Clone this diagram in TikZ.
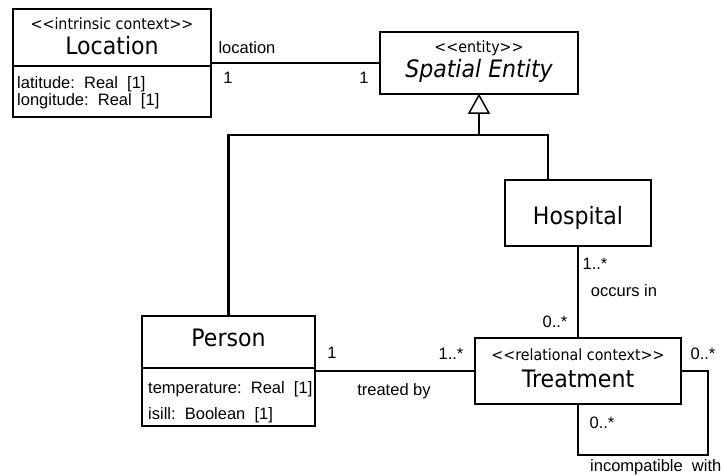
\documentclass[tikz,border=0pt]{standalone}
\usepackage{fontspec}
\setmainfont{Liberation Sans}
\newfontfamily\clsfont[FakeStretch=0.92]{DejaVu Sans}
\begin{document}
\begin{tikzpicture}[x=1pt,y=-1pt,
  umlbox/.style={draw, line width=2.4pt, inner sep=0pt, rectangle},
  link/.style={line width=2.4pt},
  cname/.style={anchor=base, inner sep=0pt, font=\clsfont\fontsize{24}{28}\selectfont},
  stereo/.style={anchor=base, inner sep=0pt, font=\clsfont\fontsize{15.5}{18}\selectfont},
  attr/.style={anchor=base west, inner sep=0pt, font=\fontsize{16.5}{19}\selectfont},
  lbl/.style={anchor=base, inner sep=0pt, font=\fontsize{16.5}{19}\selectfont}]
\useasboundingbox (0,0) rectangle (724,475);

% class boxes
\node[umlbox, minimum width=198pt, minimum height=108pt] (loc) at (112,63) {};
\node[umlbox, minimum width=198pt, minimum height=62pt] (se) at (479,63) {};
\node[umlbox, minimum width=146pt, minimum height=66pt] (hosp) at (578,213) {};
\node[umlbox, minimum width=173pt, minimum height=110pt] (per) at (228.5,371) {};
\node[umlbox, minimum width=206pt, minimum height=66pt] (treat) at (578,371) {};

% compartment dividers
\draw[link] (loc.west |- 0,66) -- (loc.east |- 0,66);
\draw[link] (per.west |- 0,368) -- (per.east |- 0,368);

% Location
\node[stereo] (locst) at (112,29) {<<intrinsic context>>};
\node[cname] (locname) at (112,54) {Location};
\node[attr] (lat) at (17,88) {latitude:\ \ Real\ \ [1]};
\node[attr] (lon) at (17,105) {longitude:\ \ Real\ \ [1]};

% Spatial Entity
\node[stereo] (sest) at (479,52) {<<entity>>};
\node[cname, font=\clsfont\itshape\fontsize{24}{28}\selectfont] (sename) at (479,77) {Spatial Entity};

% Hospital
\node[cname] (hospname) at (578,224) {Hospital};

% Person
\node[cname] (pername) at (228.5,346) {Person};
\node[attr] (temp) at (148,393) {temperature:\ \ Real\ \ [1]};
\node[attr] (isill) at (148,419) {isill:\ \ Boolean\ \ [1]};

% Treatment
\node[stereo] (trst) at (578,360) {<<relational context>>};
\node[cname] (trname) at (578,387) {Treatment};

% association location
\draw[link] (loc.east) -- (se.west);
\node[lbl] (lloc) at (247,53) {location};
\node[lbl] (lloc1) at (228,83) {1};
\node[lbl] (lse1) at (364,83) {1};

% generalization
\coordinate (gbase) at (479,112);
\coordinate (gjoin) at (479,135);
\draw[link] (gbase) -- (gjoin);
\draw[link] (per.north) |- (gjoin);
\draw[link] ([xshift=-30pt]hosp.north) |- (gjoin);
\draw[line width=1.5pt, fill=white, line join=miter] (se.south) -- ++(-10,18) -- ++(20,0) -- cycle;

% occurs in
\draw[link] (hosp.south) -- (treat.north);
\node[lbl] (oc1) at (595,269) {1..*};
\node[lbl] (ocl) at (624,296) {occurs in};
\node[lbl] (oc0) at (555,327) {0..*};

% treated by
\draw[link] (per.east) -- (treat.west);
\node[lbl] (tb1) at (332,358) {1};
\node[lbl] (tbm) at (451,359) {1..*};
\node[lbl] (tbl) at (394,395) {treated by};

% incompatible with (self association)
\coordinate (loopc) at (708,455);
\draw[link] (treat.east) -| (loopc) -| (treat.south);
\node[lbl] (ic1) at (703,359) {0..*};
\node[lbl] (ic2) at (602,428) {0..*};
\node[lbl, anchor=base west] (icl) at (590,471) {incompatible\ \ with};
\end{tikzpicture}
\end{document}
